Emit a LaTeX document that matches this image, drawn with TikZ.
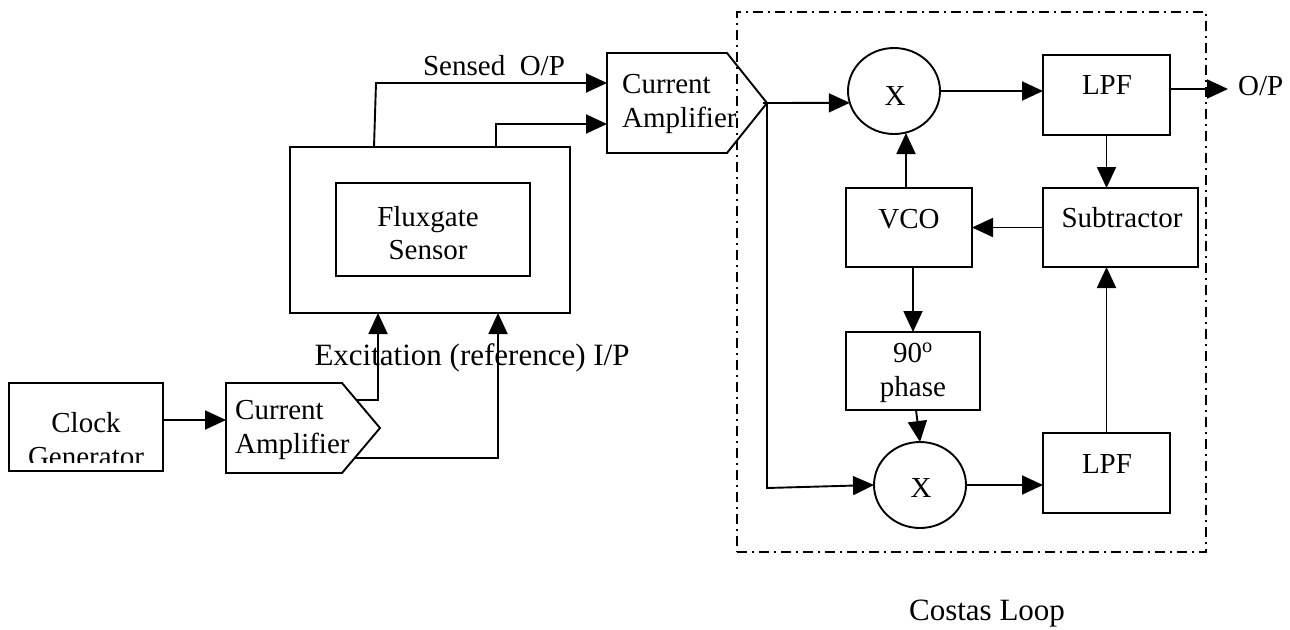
\documentclass[tikz,border=0pt]{standalone}
\usepackage{fontspec}
\setmainfont{Liberation Serif}
\usetikzlibrary{arrows.meta,shapes.geometric}
\begin{document}
\begin{tikzpicture}[x=1pt,y=-1pt,
  ln/.style={line width=1.9pt},
  arr/.style={ln,-{Triangle[length=21pt,width=19pt]}},
  box/.style={draw,ln,inner sep=0pt,outer sep=0pt},
  hold/.style={inner sep=0pt,outer sep=0pt},
  txt/.style={font=\fontsize{29}{34}\selectfont,inner sep=0pt,anchor=base},
  bigtxt/.style={font=\fontsize{31}{36}\selectfont,inner sep=0pt,anchor=base},
  mix/.style={draw,ln,ellipse,minimum width=92,minimum height=86,inner sep=0pt,outer sep=0pt},
  dashdot/.style={draw,line width=1.7pt,dash pattern=on 10pt off 5pt on 2pt off 5pt}]
\fill[white] (0,0) rectangle (1290,629);
\useasboundingbox (0,0) rectangle (1290,629);

% Clock generator
\node[box,minimum width=154,minimum height=88] (clock) at (86,427) {};
\begin{scope}
  \clip (11,385) rectangle (161,462);
  \node[txt] (clockt1) at (86,432) {Clock};
  \node[txt] (clockt2) at (86,466) {Generator};
\end{scope}

% Current amplifier 1
\node[hold,minimum width=116,minimum height=90] (amp1) at (284,428) {};
\draw[ln,line join=miter] (amp1.north west) -- (amp1.north east) -- ++(38,45) coordinate (amp1tip)
  -- (amp1.south east) -- (amp1.south west) -- cycle;
\node[txt,anchor=base west] (amp1t1) at (235,419) {Current};
\node[txt,anchor=base west] (amp1t2) at (235,453) {Amplifier};
\coordinate (amp1up) at (356,400);
\coordinate (amp1lo) at (355,458);

% Fluxgate sensor
\node[box,minimum width=280,minimum height=166] (sensor) at (430,230) {};
\node[box,minimum width=194,minimum height=93] (flux) at (433,229.5) {};
\node[txt] (fluxt1) at (428,226) {Fluxgate};
\node[txt] (fluxt2) at (428,259) {Sensor};

% Current amplifier 2
\node[hold,minimum width=120,minimum height=100] (amp2) at (667,103) {};
\draw[ln,line join=miter] (amp2.north west) -- (amp2.north east) -- ++(40,50) coordinate (amp2tip)
  -- (amp2.south east) -- (amp2.south west) -- cycle;
\node[txt,anchor=base west] (amp2t1) at (622,93) {Current};
\node[txt,anchor=base west] (amp2t2) at (622,127) {Amplifier};

% Costas loop frame
\node[dashdot,minimum width=469,minimum height=540,inner sep=0pt] (costas) at (971.5,282) {};

% Costas loop blocks
\node[mix] (mix1) at (894,91) {};
\node[txt] (mix1t) at (895,105) {X};
\node[box,minimum width=127,minimum height=80] (lpf1) at (1106.5,95) {};
\node[txt] (lpf1t) at (1107,94) {LPF};
\node[box,minimum width=155,minimum height=79] (sub) at (1120.5,227.5) {};
\node[txt] (subt) at (1122,227) {Subtractor};
\node[box,minimum width=126,minimum height=79] (vco) at (909,227.5) {};
\node[txt] (vcot) at (909,228) {VCO};
\node[box,minimum width=134,minimum height=78] (phase) at (913,371) {};
\node[txt] (phaset1) at (913,362) {90\textsuperscript{o}};
\node[txt] (phaset2) at (913,396) {phase};
\node[mix] (mix2) at (920,485) {};
\node[txt] (mix2t) at (921,497) {X};
\node[box,minimum width=127,minimum height=80] (lpf2) at (1106.5,473) {};
\node[txt] (lpf2t) at (1107,473) {LPF};

% Labels
\node[txt] (sensed) at (494,75) {Sensed\ \ O/P};
\node[bigtxt] (excit) at (472,365) {Excitation (reference) I/P};
\node[txt,anchor=base west] (opt) at (1238,95) {O/P};
\coordinate (optip) at (1228,89);
\node[bigtxt] (costast) at (987,620) {Costas Loop};

% Connectors
\draw[arr] (clock.east |- 0,420) -- (amp1.west |- 0,420);
\draw[arr] (amp1up) -- (378,400) -- (sensor.south -| 378,0);
\draw[arr] (amp1lo) -- (498,458) -- (sensor.south -| 498,0);
\draw[arr] (sensor.north -| 374,0) -- (376,83) -- (amp2.west |- 0,83);
\draw[arr] (sensor.north -| 496,0) -- (496,124) -- (amp2.west |- 0,124);
\draw[arr] ([xshift=-4pt]amp2tip) -- (mix1.195);
\draw[arr] (amp2tip) -- (amp2tip |- 0,488) -- (mix2.west);
\draw[arr] (mix1.east) -- (mix1.east -| lpf1.west);
\draw[arr] (lpf1.east |- 0,89) -- (optip);
\draw[arr] (lpf1.south) -- (lpf1.south |- sub.north);
\draw[arr] (sub.west) -- (vco.east);
\draw[arr] ([xshift=-3pt]vco.north) -- ([xshift=-3pt]vco.north |- 0,133);
\draw[arr] (vco.south -| phase.north) -- (phase.north);
\draw[arr] ([xshift=3pt]phase.south) -- (mix2.north);
\draw[arr] (mix2.east) -- (mix2.east -| lpf2.west);
\draw[arr] (lpf2.north) -- (lpf2.north |- sub.south);
\end{tikzpicture}
\end{document}
